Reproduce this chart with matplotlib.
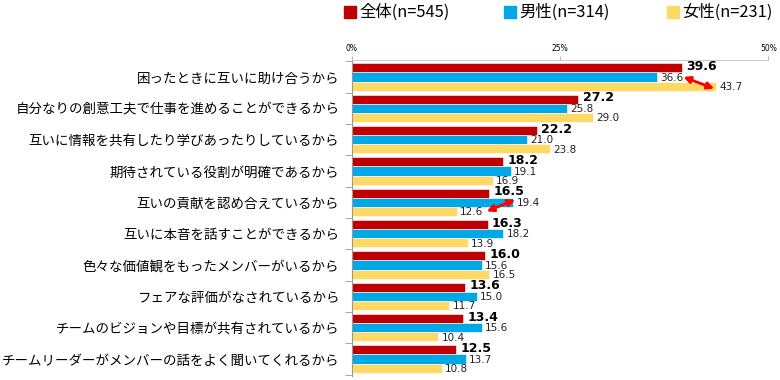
import numpy as np
import matplotlib
matplotlib.use("Agg")
from matplotlib import pyplot as plt
from matplotlib.lines import Line2D

plt.rcParams['font.family'] = ['Noto Sans CJK JP', 'DejaVu Sans']

categories = ["困ったときに互いに助け合うから",
              "自分なりの創意工夫で仕事を進めることができるから",
              "互いに情報を共有したり学びあったりしているから",
              "期待されている役割が明確であるから",
              "互いの貢献を認め合えているから",
              "互いに本音を話すことができるから",
              "色々な価値観をもったメンバーがいるから",
              "フェアな評価がなされているから",
              "チームのビジョンや目標が共有されているから",
              "チームリーダーがメンバーの話をよく聞いてくれるから"]
total = [39.6, 27.2, 22.2, 18.2, 16.5, 16.3, 16.0, 13.6, 13.4, 12.5]
male = [36.6, 25.8, 21.0, 19.1, 19.4, 18.2, 15.6, 15.0, 15.6, 13.7]
female = [43.7, 29.0, 23.8, 16.9, 12.6, 13.9, 16.5, 11.7, 10.4, 10.8]
series_names = ["全体(n=545)", "男性(n=314)", "女性(n=231)"]
colors = ["#C00000", "#00A8E6", "#FFD966"]

fig = plt.figure(figsize=(7.8, 3.8), dpi=100)
ax = fig.add_axes([0.451, 0.01, 0.534, 0.832])

y = np.arange(len(categories))
h = 0.29
ax.barh(y - h, total, height=h, color=colors[0], edgecolor="white", linewidth=0.4)
ax.barh(y, male, height=h, color=colors[1], edgecolor="white", linewidth=0.4)
ax.barh(y + h, female, height=h, color=colors[2], edgecolor="white", linewidth=0.4)

for i in range(len(categories)):
    ax.text(total[i] + 0.5, y[i] - h - 0.04, f"{total[i]:.1f}", va="center", ha="left",
            fontsize=9, fontweight="bold", family="DejaVu Sans")
    ax.text(male[i] + 0.4, y[i] + 0.02, f"{male[i]:.1f}", va="center", ha="left",
            fontsize=7.5, family="DejaVu Sans", color="#222222")
    ax.text(female[i] + 0.4, y[i] + h + 0.03, f"{female[i]:.1f}", va="center", ha="left",
            fontsize=7.5, family="DejaVu Sans", color="#222222")

# red double arrows
ax.annotate("", xy=(43.5, y[0] + h + 0.08), xytext=(39.8, y[0] + 0.0),
            arrowprops=dict(arrowstyle="<|-|>", color="#FF0000", lw=2,
                            mutation_scale=10, shrinkA=0, shrinkB=0))
ax.annotate("", xy=(19.6, y[4] - 0.08), xytext=(16.2, y[4] + h),
            arrowprops=dict(arrowstyle="<|-|>", color="#FF0000", lw=2,
                            mutation_scale=10, shrinkA=0, shrinkB=0))

ax.set_xlim(0, 50)
ax.set_ylim(9.55, -0.54)
ax.xaxis.tick_top()
ax.set_xticks([0, 25, 50])
ax.set_xticklabels(["0%", "25%", "50%"], fontsize=5.5, family="DejaVu Sans")
ax.tick_params(axis="x", direction="out", length=3, color="#BBBBBB", pad=2)
ax.set_yticks(y)
ax.set_yticklabels(categories, fontsize=9.7)
ax.tick_params(axis="y", length=0, pad=9)
ax.set_yticks(np.arange(-0.5, 10.0, 1.0), minor=True)
ax.tick_params(axis="y", which="minor", direction="out", length=5, color="#999999")

for s in ["right", "bottom"]:
    ax.spines[s].set_visible(False)
ax.spines["top"].set_color("#CCCCCC")
ax.spines["left"].set_color("#999999")

# legend, one entry per block
legend_x = [0.428, 0.633, 0.842]
for name, c, lx in zip(series_names, colors, legend_x):
    hdl = Line2D([], [], marker="s", linestyle="", markersize=8.5, color=c)
    fig.legend([hdl], [name], loc="upper left", bbox_to_anchor=(lx, 1.015),
               frameon=False, fontsize=11.8, handletextpad=0.15, handlelength=0.8,
               borderaxespad=0.2)

fig.savefig("out.png", dpi=100)
